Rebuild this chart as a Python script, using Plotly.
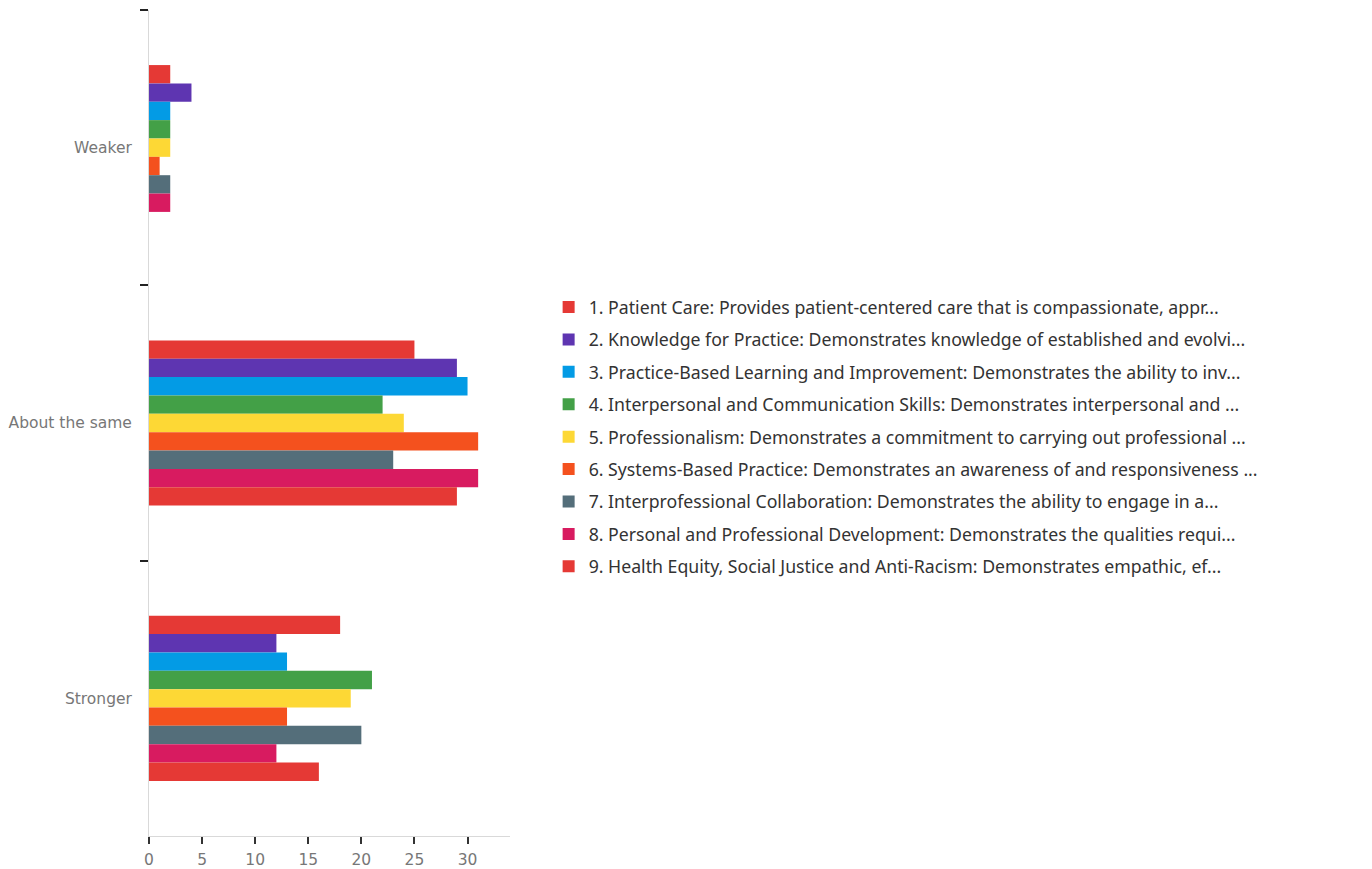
import plotly.graph_objects as go

# Response categories (rows) and the nine competency series
categories = ["Weaker", "About the same", "Stronger"]

series_names = [
    "1. Patient Care: Provides patient-centered care that is compassionate, appr...",
    "2. Knowledge for Practice: Demonstrates knowledge of established and evolvi...",
    "3. Practice-Based Learning and Improvement: Demonstrates the ability to inv...",
    "4. Interpersonal and Communication Skills: Demonstrates interpersonal and ...",
    "5. Professionalism: Demonstrates a commitment to carrying out professional ...",
    "6. Systems-Based Practice: Demonstrates an awareness of and responsiveness ...",
    "7. Interprofessional Collaboration: Demonstrates the ability to engage in a...",
    "8. Personal and Professional Development: Demonstrates the qualities requi...",
    "9. Health Equity, Social Justice and Anti-Racism: Demonstrates empathic, ef...",
]

patient_care = [2, 25, 18]
knowledge = [4, 29, 12]
practice_learning = [2, 30, 13]
communication = [2, 22, 21]
professionalism = [2, 24, 19]
systems_practice = [1, 31, 13]
interprofessional = [2, 23, 20]
development = [2, 31, 12]
health_equity = [0, 29, 16]

series_values = [
    patient_care, knowledge, practice_learning, communication, professionalism,
    systems_practice, interprofessional, development, health_equity,
]

colors = ["#E53935", "#5E35B1", "#039BE5", "#43A047", "#FDD835",
          "#F4511E", "#546E7A", "#D81B60", "#E53935"]

x_ticks = [0, 5, 10, 15, 20, 25, 30]

fig = go.Figure()
for i, (name, vals, col) in enumerate(zip(series_names, series_values, colors)):
    fig.add_trace(go.Bar(
        y=categories, x=vals, name=name, orientation="h",
        marker=dict(color=col, line=dict(width=0)),
        legendgroup=f"g{i}",
    ))

fig.update_layout(
    width=1372, height=869,
    barmode="group", bargap=0.40, bargroupgap=0,
    paper_bgcolor="white", plot_bgcolor="white",
    margin=dict(l=149, r=862, t=10, b=33, autoexpand=False),
    font=dict(family="Noto Sans, Open Sans, sans-serif", color="#666666"),
    showlegend=True,
    legend=dict(
        x=1.107, xanchor="left", y=0.483, yanchor="middle",
        font=dict(size=17.7, color="#333333"),
        tracegroupgap=6.4, itemwidth=30,
        bgcolor="rgba(0,0,0,0)",
    ),
    xaxis=dict(
        range=[0, 34], tickvals=x_ticks, showgrid=False, zeroline=False,
        showline=True, linecolor="#d9d9d9", linewidth=1,
        ticks="outside", ticklen=7, tickwidth=2, tickcolor="#333333",
        tickfont=dict(family="DejaVu Sans, Verdana, sans-serif", size=15.5, color="#777777"),
        ticklabelstandoff=2,
        fixedrange=True,
    ),
    yaxis=dict(
        autorange="reversed", showgrid=False, zeroline=False,
        showline=True, linecolor="#d9d9d9", linewidth=1,
        ticks="outside", tickson="boundaries", ticklen=8, tickwidth=2,
        tickcolor="#222222",
        tickfont=dict(family="DejaVu Sans, Verdana, sans-serif", size=15.5, color="#777777"),
        ticklabelstandoff=13,
    ),
)

fig.write_html("out.html")
